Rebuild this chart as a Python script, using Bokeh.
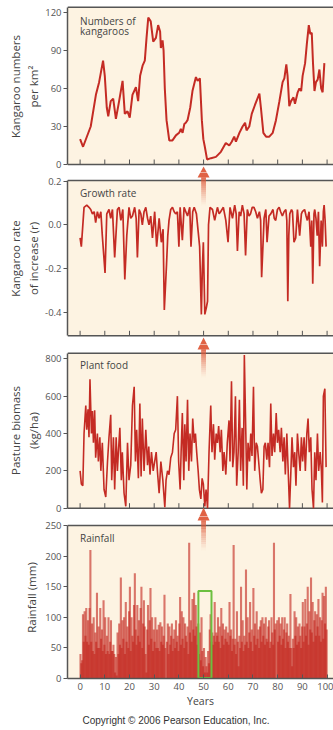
from bokeh.plotting import figure
from bokeh.layouts import column
from bokeh.models import FixedTicker, NumeralTickFormatter, Label, Title, Range1d
from bokeh.embed import file_html
from bokeh.resources import INLINE

# ---------------- data ----------------
year_ticks = [0, 10, 20, 30, 40, 50, 60, 70, 80, 90, 100]

kang_year = [0.0, 1.2, 4.3, 6.4, 7.7, 9.3, 10.0, 10.8, 11.4, 12.4,
             13.4, 14.5, 15.8, 17.2, 18.1, 19.2, 20.1, 21.2, 22.6, 23.5,
             24.3, 25.3, 26.2, 26.9, 27.6, 28.6, 29.6, 30.7, 31.6, 32.4,
             32.7, 33.4, 33.8, 34.3, 35.0, 36.1, 37.4, 38.8, 40.1, 40.8,
             41.5, 42.2, 42.8, 43.5, 44.6, 45.5, 46.9, 47.6, 48.5, 49.3,
             49.9, 50.5, 51.4, 53.0, 55.0, 57.0, 59.0, 60.4, 61.4, 62.4,
             63.1, 64.5, 65.8, 66.8, 67.4, 68.5, 69.5, 70.8, 72.6, 73.2,
             74.2, 75.3, 76.6, 78.0, 79.3, 80.7, 82.0, 82.7, 83.5, 84.0,
             84.7, 85.4, 86.4, 87.0, 88.1, 88.8, 89.5, 90.1, 91.1, 91.8,
             92.6, 93.2, 93.8, 94.3, 94.9, 95.5, 96.2, 96.9, 97.6, 98.2,
             98.9]
kang_num = [20, 14, 30, 55, 65, 82, 70, 45, 38, 50,
            52, 36, 50, 66, 40, 42, 37, 55, 61, 50,
            70, 78, 82, 100, 116, 113, 97, 100, 110, 105,
            92, 98, 90, 60, 35, 19, 19, 23, 25, 28,
            25, 32, 33, 35, 45, 58, 69, 66, 68, 35,
            20, 14, 4, 5, 6, 10, 17, 15, 18, 22,
            18, 25, 30, 33, 27, 30, 40, 47, 56, 45,
            25, 22, 22, 25, 35, 50, 65, 68, 79, 70,
            46, 50, 53, 48, 57, 60, 58, 70, 80, 95,
            110, 103, 104, 80, 58, 65, 67, 75, 60, 57,
            80]

growth_year = [0.0, 0.5, 1.6, 2.7, 3.6, 4.3, 5.0, 5.7, 6.3, 7.0,
               7.7, 8.4, 9.0, 10.1, 10.8, 11.7, 12.4, 13.1, 14.0, 15.1,
               15.8, 16.5, 17.3, 18.1, 18.9, 19.8, 20.5, 21.2, 22.1, 22.7,
               23.2, 23.9, 24.6, 25.2, 25.9, 26.6, 27.3, 27.9, 28.6, 29.3,
               30.2, 31.0, 32.0, 32.9, 33.6, 34.1, 35.0, 35.5, 36.0, 36.7,
               37.4, 38.1, 38.7, 39.4, 40.0, 40.5, 41.4, 42.1, 42.8, 43.5,
               44.4, 44.9, 45.6, 46.2, 47.1, 47.8, 48.4, 49.1, 49.5, 49.9,
               50.5, 51.1, 51.6, 52.0, 52.6, 53.6, 54.5, 55.6, 56.3, 56.9,
               58.0, 59.0, 59.9, 60.7, 61.7, 62.6, 63.2, 63.7, 64.4, 65.0,
               65.7, 66.4, 67.0, 67.7, 68.4, 69.0, 69.7, 70.4, 71.1, 71.8,
               72.6, 73.1, 73.5, 74.5, 75.2, 75.7, 76.5, 77.2, 78.1, 78.6,
               79.2, 79.9, 80.6, 81.2, 81.9, 82.6, 83.3, 83.7, 84.1, 84.5,
               84.9, 85.6, 86.0, 86.6, 87.3, 88.0, 88.9, 89.6, 90.0, 90.9,
               91.5, 92.0, 92.7, 93.4, 93.8, 94.2, 94.7, 95.0, 95.5, 96.0,
               96.5, 97.0, 97.6, 98.1, 98.5, 98.8, 99.2, 99.6]
growth_r = [-0.06, -0.10, 0.08, 0.09, 0.08, 0.07, 0.05, 0.06, 0.01, 0.06,
            0.03, 0.06, -0.05, -0.22, 0.05, 0.07, 0.03, 0.07, -0.15, 0.07,
            0.08, 0.02, 0.07, -0.25, -0.05, 0.08, 0.03, 0.04, 0.08, 0.03,
            -0.15, 0.07, 0.05, 0.00, 0.06, 0.08, 0.03, 0.00, 0.04, -0.06,
            0.06, -0.10, 0.03, -0.08, -0.02, -0.39, -0.18, -0.05, 0.02, 0.07,
            0.08, 0.06, 0.05, 0.06, -0.10, 0.08, -0.07, 0.08, 0.06, 0.04,
            0.08, -0.10, 0.06, 0.08, 0.05, -0.03, -0.10, -0.41, -0.20, -0.08,
            -0.41, -0.38, -0.35, 0.00, 0.08, 0.07, 0.02, 0.08, 0.05, 0.06,
            0.08, 0.02, -0.08, 0.08, 0.03, 0.09, 0.05, -0.12, 0.06, 0.04,
            0.09, 0.05, -0.14, 0.07, 0.04, 0.05, 0.08, 0.08, 0.06, 0.03,
            0.06, 0.02, -0.24, 0.03, 0.07, -0.08, 0.04, 0.05, 0.07, 0.03,
            0.02, 0.07, 0.08, 0.06, 0.04, 0.06, 0.07, 0.02, -0.35, -0.05,
            0.05, 0.07, 0.06, -0.08, -0.06, 0.07, -0.05, 0.05, 0.06, 0.07,
            0.04, 0.02, 0.06, -0.10, 0.02, -0.27, 0.05, 0.07, 0.03, -0.05,
            0.06, -0.19, 0.02, -0.10, 0.06, 0.09, 0.02, -0.10]

plant_year = [0.0, 0.5, 1.1, 1.6, 2.3, 2.7, 3.2, 3.6, 4.0, 4.6,
              5.0, 5.4, 5.9, 6.3, 7.0, 7.4, 8.0, 8.4, 9.0, 9.7,
              10.4, 11.1, 11.7, 12.4, 12.8, 13.5, 14.0, 14.6, 15.1, 15.5,
              16.1, 16.7, 17.1, 17.8, 18.5, 19.2, 19.8, 20.5, 21.2, 21.9,
              22.4, 22.9, 23.6, 24.2, 24.7, 25.2, 25.9, 26.6, 27.3, 27.8,
              28.3, 28.9, 29.6, 30.2, 30.8, 31.3, 32.0, 32.7, 33.5, 34.3,
              34.8, 35.4, 36.0, 36.7, 37.4, 38.1, 38.7, 39.4, 39.9, 40.5,
              40.9, 41.4, 42.0, 42.4, 42.9, 43.5, 44.0, 44.5, 45.1, 45.6,
              46.2, 46.7, 47.2, 47.8, 48.3, 48.9, 49.4, 49.9, 50.5, 51.0,
              51.6, 52.2, 52.9, 53.4, 54.0, 54.5, 55.1, 55.6, 56.1, 56.7,
              57.2, 57.8, 58.3, 59.0, 59.6, 60.3, 60.7, 61.3, 61.8, 62.3,
              62.9, 63.4, 64.0, 64.5, 65.0, 65.6, 66.1, 66.5, 67.1, 67.5,
              68.0, 68.6, 69.1, 69.6, 70.2, 70.7, 71.3, 71.8, 72.3, 72.9,
              73.4, 74.0, 74.5, 75.0, 75.6, 76.1, 76.7, 77.2, 77.7, 78.3,
              78.8, 79.4, 79.9, 80.4, 81.0, 81.5, 82.1, 82.6, 83.1, 83.7,
              84.2, 84.8, 85.3, 85.8, 86.4, 86.9, 87.4, 88.0, 88.5, 89.1,
              89.6, 90.1, 90.7, 91.2, 91.8, 92.3, 92.8, 93.4, 93.9, 94.5,
              95.0, 95.5, 96.1, 96.6, 97.2, 97.7, 98.1, 98.5, 99.1, 99.6]
plant_biomass = [200, 130, 120, 400, 550, 420, 530, 380, 690, 400,
                 520, 350, 525, 270, 400, 250, 380, 200, 350, 100,
                 60, 250, 380, 500, 150, 380, 100, 380, 200, 300,
                 430, 150, 300, 80, 10, 350, 150, 230, 550, 650,
                 250, 420, 160, 560, 170, 480, 200, 420, 230, 330,
                 180, 300, 200, 250, 300, 200, 80, 250, 150, 5,
                 150, 200, 180, 270, 300, 400, 420, 600, 250, 100,
                 300, 510, 150, 450, 250, 580, 200, 400, 250, 480,
                 350, 400, 300, 200, 100, 50, 160, 130, 10, 100,
                 0, 300, 550, 300, 450, 260, 400, 350, 440, 300,
                 420, 200, 300, 180, 350, 470, 250, 680, 220, 300,
                 600, 120, 300, 580, 200, 430, 120, 820, 400, 100,
                 350, 250, 400, 280, 650, 200, 350, 330, 250, 150,
                 80, 100, 330, 350, 260, 350, 220, 560, 280, 400,
                 300, 510, 350, 420, 300, 430, 250, 380, 180, 400,
                 220, 0, 180, 380, 220, 300, 120, 400, 300, 200,
                 380, 250, 380, 200, 400, 480, 300, 380, 100, 0,
                 300, 150, 400, 200, 300, 200, 30, 600, 640, 220]

# rainfall, three readings per year (one row = ten years)
rain_mm = [40, 25, 30, 105, 60, 110, 70, 115, 60, 95, 55, 115, 210, 60, 90, 45, 100, 40, 75, 60, 140, 50, 85, 50, 115, 65, 80, 45, 128, 55,
           100, 40, 70, 45, 100, 40, 60, 95, 45, 45, 55, 40, 10, 35, 5, 75, 40, 90, 55, 165, 50, 95, 65, 100, 40, 125, 60, 85, 50, 110,
           150, 45, 100, 70, 60, 120, 172, 80, 55, 120, 70, 95, 60, 115, 150, 50, 90, 128, 85, 40, 10, 80, 120, 55, 95, 148, 65, 100, 45, 80,
           60, 100, 50, 80, 50, 88, 45, 92, 60, 85, 55, 70, 137, 50, 0, 60, 90, 40, 85, 55, 70, 90, 45, 65, 80, 50, 95, 60, 70, 45,
           90, 133, 55, 110, 65, 100, 50, 90, 70, 60, 85, 40, 222, 75, 95, 60, 130, 80, 140, 70, 120, 85, 55, 90, 40, 75, 30, 100, 45, 20,
           50, 10, 35, 20, 10, 45, 25, 80, 105, 60, 75, 55, 70, 125, 60, 75, 70, 100, 60, 85, 50, 115, 70, 90, 55, 80, 65, 85, 60, 75,
           55, 125, 70, 80, 45, 65, 218, 55, 65, 40, 110, 60, 20, 70, 50, 150, 60, 95, 45, 70, 55, 178, 60, 100, 50, 75, 125, 60, 80, 45,
           148, 70, 90, 55, 110, 65, 80, 50, 85, 95, 60, 100, 70, 90, 55, 100, 65, 60, 85, 95, 50, 60, 100, 75, 55, 222, 80, 90, 0, 95,
           60, 100, 70, 90, 55, 100, 65, 80, 100, 50, 75, 90, 60, 70, 50, 138, 50, 20, 65, 50, 110, 70, 100, 55, 85, 60, 90, 70, 50, 85,
           125, 60, 85, 130, 70, 90, 150, 55, 110, 80, 165, 75, 125, 60, 95, 110, 70, 105, 85, 130, 70, 100, 60, 95, 140, 65, 135, 90, 150, 80]
rain_year = [(i + 0.5) / 3 for i in range(len(rain_mm))]

highlight_years = (47.9, 53.2)   # green box on the rainfall panel
highlight_top = 143
arrow_year = 50

# ---------------- layout / style ----------------
W = 333
LEFT = 67
FRAME_W = W - LEFT
X0, X1 = -5.1, 102.6
XPP = (X1 - X0) / FRAME_W
BG = "#fdf3e2"
AXC = "#555555"
RED = "#c42b24"
RAIN = "#c4261f"
ARROW = "#de5a3a"
GREEN = "#6cbf3f"
FONT = "Open Sans"
TXT = "#444444"


class Panel:
    """One stacked figure; page pixel g <-> data value via two reference points."""

    def __init__(self, c0, c1, fb, va, ga, vb, gb, vbot, vtop, yticks, ylabel,
                 xlabels=False, label_standoff=1):
        self.k = (vb - va) / (gb - ga)
        self.va, self.ga = va, ga
        p = figure(width=W, height=c1 - c0,
                   x_range=Range1d(X0, X1), y_range=Range1d(self.v(fb), self.v(c0)),
                   output_backend="svg", toolbar_location=None,
                   x_axis_location="below" if xlabels else None,
                   min_border_left=LEFT, min_border_right=0,
                   min_border_top=0, min_border_bottom=c1 - fb)
        p.background_fill_color = "white"
        p.border_fill_color = "white"
        p.outline_line_color = None
        p.grid.visible = False
        self.p = p

        # panel background and frame lines
        p.quad(left=[X0], right=[X1], bottom=[vbot], top=[vtop], fill_color=BG, line_color=None)
        p.segment(x0=[X0], y0=[vtop], x1=[X1], y1=[vtop], line_color=AXC, line_width=1.5)
        if not xlabels:
            p.segment(x0=[X0], y0=[vbot], x1=[X1], y1=[vbot], line_color=AXC, line_width=1.5)
            tick = 5 * abs(self.k)
            p.segment(x0=year_ticks, y0=[vbot] * len(year_ticks), x1=year_ticks,
                      y1=[vbot + tick] * len(year_ticks), line_color=AXC, line_width=1)
        else:
            ax = p.xaxis[0]
            ax.ticker = FixedTicker(ticks=year_ticks)
            ax.minor_tick_line_color = None
            ax.major_tick_in = 4
            ax.major_tick_out = 0
            ax.major_tick_line_color = AXC
            ax.axis_line_color = AXC
            ax.axis_line_width = 1.5
            ax.major_label_text_font_size = "9.5px"
            ax.major_label_text_font = FONT
            ax.major_label_text_color = AXC
            ax.major_label_standoff = 4
            ax.axis_label = "Years"
            ax.axis_label_text_font = FONT
            ax.axis_label_text_font_size = "10.5px"
            ax.axis_label_text_font_style = "normal"
            ax.axis_label_text_color = TXT
            ax.axis_label_standoff = 1

        ay = p.yaxis[0]
        ay.bounds = (vbot, vtop)
        ay.ticker = FixedTicker(ticks=yticks)
        ay.minor_tick_line_color = None
        ay.major_tick_in = 0
        ay.major_tick_out = 4
        ay.major_tick_line_color = AXC
        ay.axis_line_color = AXC
        ay.axis_line_width = 1.5
        ay.major_label_text_font = FONT
        ay.major_label_text_font_size = "9.5px"
        ay.major_label_text_color = AXC
        ay.major_label_standoff = 2
        ay.axis_label = ylabel
        ay.axis_label_text_font = FONT
        ay.axis_label_text_font_size = "11.5px"
        ay.axis_label_text_font_style = "normal"
        ay.axis_label_text_color = TXT
        ay.axis_label_standoff = label_standoff

    def v(self, g):
        return self.va + (g - self.ga) * self.k

    def text(self, g_top, text):
        self.p.add_layout(Label(x=0, y=self.v(g_top), text=text, text_font=FONT,
                                text_font_size="10px", text_color=TXT,
                                text_baseline="top", text_align="left"))

    def arrow(self, g_tip, head, shaft_end):
        g_base = g_tip + head
        self.p.patch([arrow_year - 6 * XPP, arrow_year, arrow_year + 6 * XPP],
                     [self.v(g_base), self.v(g_tip), self.v(g_base)],
                     fill_color=ARROW, fill_alpha=0.95, line_color=None)
        n = 14
        seg = (shaft_end - g_base) / n
        lefts, rights, tops, bots, alphas = [], [], [], [], []
        for i in range(n):
            lefts.append(arrow_year - 2.4 * XPP)
            rights.append(arrow_year + 2.4 * XPP)
            tops.append(self.v(g_base + i * seg - 0.2))
            bots.append(self.v(g_base + (i + 1) * seg))
            alphas.append(0.85 * (1 - i / n) ** 1.4)
        self.p.quad(left=lefts, right=rights, top=tops, bottom=bots,
                    fill_color=ARROW, fill_alpha=alphas, line_color=None)


# page pixel boundaries of the four stacked figures
P1 = Panel(0, 172, 172, 0, 164, 120, 12, 0, 124.2, [0, 30, 60, 90, 120],
           "Kangaroo numbers\nper km²")
P2 = Panel(172, 344, 344, 0, 224.3, -0.4, 311.7, -0.508, 0.203, [-0.4, -0.2, 0, 0.2],
           "Kangaroo rate\nof increase (r)")
P3 = Panel(344, 516, 516, 0, 507.7, 800, 358.3, 0, 830, [0, 200, 400, 600, 800],
           "Pasture biomass\n(kg/ha)")
P4 = Panel(516, 730, 678, 0, 678, 250, 525, 0, 250, [0, 50, 100, 150, 200, 250],
           "Rainfall (mm)", xlabels=True, label_standoff=3)
P2.p.yaxis[0].formatter = NumeralTickFormatter(format="0.0")

# series
P1.p.line(kang_year, kang_num, line_color=RED, line_width=2)
P2.p.line(growth_year, growth_r, line_color=RED, line_width=1.7)
P3.p.line(plant_year, plant_biomass, line_color=RED, line_width=1.6)
P4.p.vbar(x=rain_year, width=0.85, top=rain_mm, bottom=0, fill_color=RAIN,
          fill_alpha=0.62, line_color=None)
P4.p.quad(left=[highlight_years[0]], right=[highlight_years[1]], bottom=[0.7], top=[highlight_top],
          fill_color=None, line_color=GREEN, line_width=2)

# panel captions
P1.text(13, "Numbers of")
P1.text(23.5, "kangaroos")
P2.text(185, "Growth rate")
P3.text(357, "Plant food")
P4.text(530, "Rainfall")

# arrows (drawn in both neighbouring figures so they cross the gap)
for pa in (P1, P2):
    pa.arrow(166, 11, 205)
for pa in (P2, P3):
    pa.arrow(337, 12, 377)
for pa in (P3, P4):
    pa.arrow(507, 13, 550)

P4.p.add_layout(Title(text="Copyright © 2006 Pearson Education, Inc.", align="left", offset=15,
                      text_font="Liberation Sans", text_font_size="10px", text_font_style="normal",
                      text_color="#333333", standoff=4), "below")

layout = column(P1.p, P2.p, P3.p, P4.p, spacing=0)
open("out.html", "w").write(file_html(layout, INLINE))
